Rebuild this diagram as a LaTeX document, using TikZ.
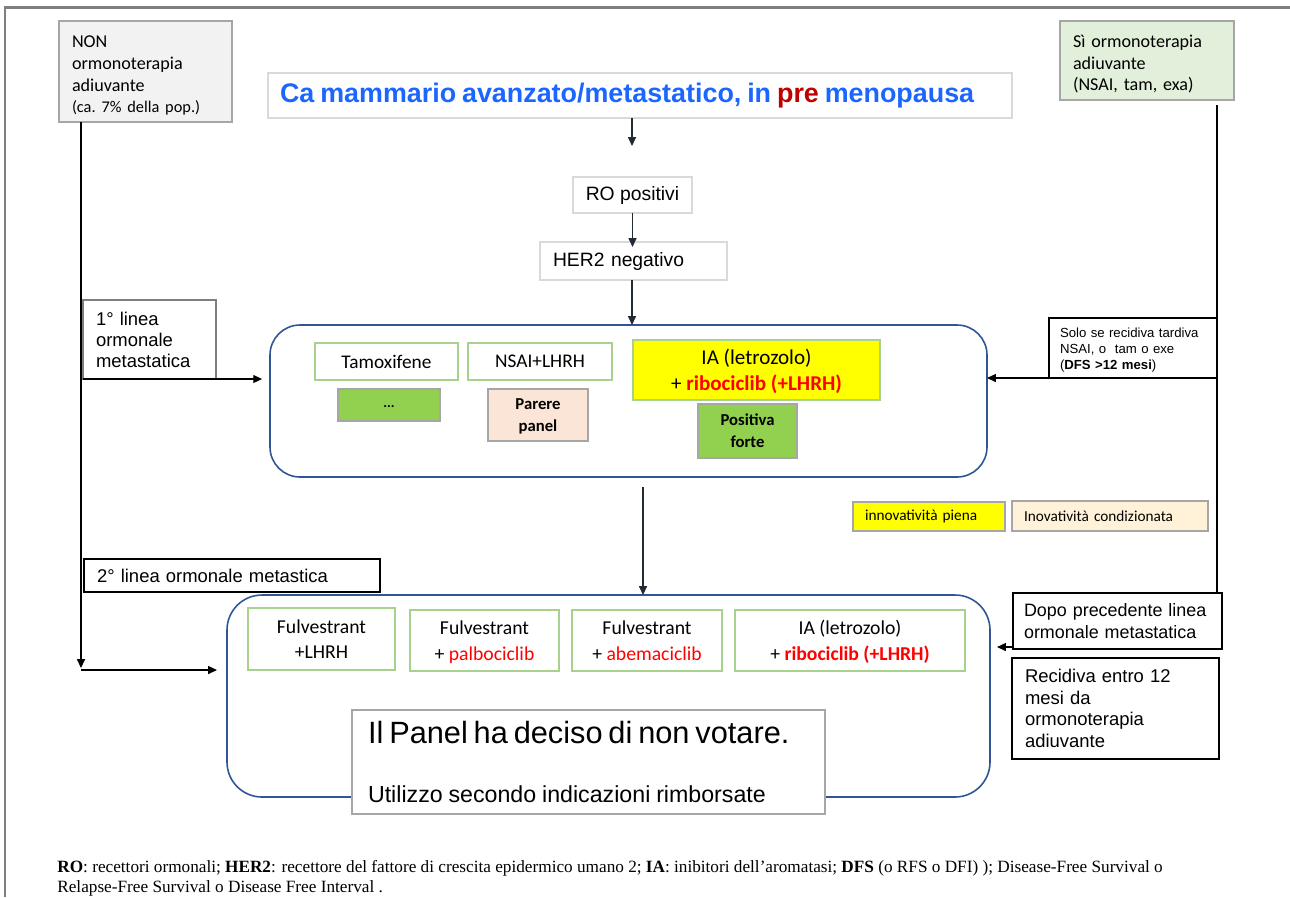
\documentclass[tikz,border=0pt]{standalone}
\usepackage{fontspec}
\setmainfont{Liberation Sans}
\newfontfamily\calfont{Carlito}
\newfontfamily\tmsfont{Liberation Serif}
\usetikzlibrary{arrows.meta}
\definecolor{framegray}{HTML}{7F7F7F}
\definecolor{boxgray}{HTML}{A6A6A6}
\definecolor{lightgray}{HTML}{D9D9D9}
\definecolor{nonfill}{HTML}{F2F2F2}
\definecolor{sifill}{HTML}{E2EFDA}
\definecolor{titleblue}{HTML}{1A66FF}
\definecolor{darkred}{HTML}{C00000}
\definecolor{bigblue}{HTML}{2F5597}
\definecolor{greenline}{HTML}{A9D18E}
\definecolor{greenfill}{HTML}{92D050}
\definecolor{peach}{HTML}{FBE5D6}
\definecolor{beige}{HTML}{FFF2D9}
\definecolor{yel}{HTML}{FFFF00}
\definecolor{rd}{HTML}{FF0000}
\definecolor{navy}{HTML}{222A35}
\newcommand\nodep[1]{\raisebox{0pt}[\height][0pt]{#1}}
\tikzset{
  sz/.style 2 args={minimum width=#1*0.02cm, minimum height=#2*0.02cm},
  base/.style={draw, inner sep=0pt, outer sep=0pt},
  graybox/.style={base, draw=boxgray, line width=0.8pt},
  lightbox/.style={base, draw=lightgray, line width=0.9pt, fill=white},
  blackbox/.style={base, draw=black, line width=0.9pt, fill=white},
  greenbox/.style={base, draw=greenline, line width=0.9pt, fill=white, align=center},
  bigbox/.style={base, draw=bigblue, line width=0.9pt, rounded corners=0.6cm},
  arr/.style={-{Triangle[length=5pt,width=4.5pt]}, line width=0.7pt},
  leftpad/.style={align=left, inner xsep=#1*0.02cm},
}
\begin{document}
\begin{tikzpicture}[x=0.02cm, y=-0.02cm]
\useasboundingbox (0,0) rectangle (1290,897);
\fill[white] (0,0) rectangle (1290,897);
% page frame
\draw[framegray, line width=1.7pt] (5,897) -- (5,7) -- (1290,7);

% top-left box
\node[graybox, fill=nonfill, sz={173}{101}, leftpad=13, text width=2.94cm] (non) at (145.5,71.5)
 {\calfont\fontsize{10.3}{12.4}\selectfont\rule{0pt}{11pt}NON\\ormonoterapia\\adiuvante\\{\fontsize{9.3}{12.2}\selectfont\frenchspacing(ca. 7\% della pop.)}};
% top-right box
\node[graybox, fill=sifill, sz={174}{79}, leftpad=13, text width=2.96cm] (si) at (1147,60.5)
 {\calfont\fontsize{10.3}{12.5}\selectfont\rule{0pt}{11pt}Sì ormonoterapia\\adiuvante\\(NSAI, tam, exa)};

% title
\node[lightbox, sz={744}{45}, leftpad=12, text width=14.4cm] (title) at (640,95.5)
 {\fontsize{15.3}{18}\selectfont\bfseries\color{titleblue}Ca mammario avanzato/metastatico, in \textcolor{darkred}{pre} menopausa};

\node[lightbox, sz={119}{36}, font=\fontsize{11}{13}\selectfont] (ro) at (632.5,195) {RO positivi};
\node[lightbox, sz={187}{38}, leftpad=13, text width=3.22cm, font=\fontsize{11}{13}\selectfont] (her) at (633.5,261) {HER2 negativo};

\coordinate (t1) at (632,146);
\draw[arr, navy] (title.south -| t1) -- (t1);
\draw[arr, navy] (ro.south) -- ([yshift=-0.1cm]her.north -| ro.south);

% first big box
\node[bigbox, sz={717}{152}] (box1) at (628.5,401) {};
\draw[arr, navy] (her.south -| t1) -- (box1.north -| t1);

\node[greenbox, sz={143}{37}, font=\calfont\fontsize{11}{13}\selectfont] (tam) at (386.5,361.5) {Tamoxifene};
\node[greenbox, sz={144}{37}, font=\calfont\fontsize{11}{13}\selectfont] (nsai) at (540,361.5) {NSAI+LHRH};
\node[greenbox, fill=yel, sz={247}{60}, font=\calfont\fontsize{12}{15}\selectfont] (ia1) at (756.5,370)
 {IA (letrozolo)\\\nodep{+ \textcolor{rd}{\bfseries ribociclib (+LHRH)}}};
\node[graybox, fill=greenfill, sz={102}{32}, font=\calfont\fontsize{8}{10}\selectfont\bfseries] (dots) at (389,405) {\raisebox{-2.5pt}{...}};
\node[graybox, fill=peach, sz={100}{52}, align=center, font=\calfont\fontsize{9.5}{12.4}\selectfont\bfseries] (parere) at (538,415) {Parere\\\nodep{panel}};
\node[graybox, fill=greenfill, sz={99}{54}, align=center, font=\calfont\fontsize{9.5}{12.4}\selectfont\bfseries] (pos) at (747.5,431) {Positiva\\forte};

% left first line box
\node[graybox, draw=framegray, fill=white, sz={133}{79}, leftpad=13, text width=2.14cm, font=\fontsize{10.5}{12}\selectfont] (l1) at (149.5,339.5)
 {1° linea\\ormonale\\metastatica};
\draw[arr, black] (l1.south west) -- ([xshift=-4.5pt]l1.south west -| box1.west);

% right first line box
\node[blackbox, sz={168}{60}, leftpad=11, text width=2.92cm, font=\fontsize{7.5}{9.1}\selectfont] (solo) at (1133,348)
 {\rule{0pt}{8pt}Solo se recidiva tardiva\\NSAI, o\ \ tam o exe\\(\textbf{DFS >12 mesi})};
\draw[arr, black] (solo.south east) -- (solo.south east -| box1.east);

% legend
\node[graybox, fill=yel, sz={152}{29}, leftpad=12, text width=2.56cm, font=\calfont\fontsize{8.7}{10}\selectfont] (leg1) at (929,516.5) {innovatività piena};
\node[graybox, fill=beige, sz={196}{30}, leftpad=12, text width=3.44cm, font=\calfont\fontsize{8.7}{10}\selectfont] (leg2) at (1110,516) {Inovatività condizionata};

% second big box
\node[bigbox, sz={763}{202}, rounded corners=0.7cm] (box2) at (608.5,696) {};
\coordinate (m1) at (643,487);
\draw[arr, navy] (m1) -- (m1 |- box2.north);

\node[blackbox, line width=1.1pt, sz={296}{33}, leftpad=13, text width=5.4cm, font=\fontsize{10.5}{12}\selectfont] (l2) at (232,575.5)
 {2° linea ormonale metastica};

\node[greenbox, sz={147}{62}, font=\calfont\fontsize{11.2}{14.5}\selectfont] (f1) at (321.5,639) {Fulvestrant\\+LHRH};
\node[greenbox, sz={149}{61}, font=\calfont\fontsize{11.2}{14.5}\selectfont] (f2) at (484.5,640.5) {Fulvestrant\\\nodep{+ \textcolor{rd}{palbociclib}}};
\node[greenbox, sz={150}{61}, font=\calfont\fontsize{11.2}{14.5}\selectfont] (f3) at (647,640.5) {Fulvestrant\\+ \textcolor{rd}{abemaciclib}};
\node[greenbox, sz={230}{61}, font=\calfont\fontsize{11.2}{14.5}\selectfont] (ia2) at (850,640.5) {IA (letrozolo)\\\nodep{+ \textcolor{rd}{\bfseries ribociclib (+LHRH)}}};

\node[graybox, fill=white, sz={473}{104}, leftpad=16, text width=8.82cm] (panel) at (588.5,762)
 {\fontsize{17.5}{20}\selectfont Il Panel ha deciso di non votare.\\[21.5pt]{\fontsize{13.2}{20}\selectfont Utilizzo secondo indicazioni rimborsate}};

% left connectors
\coordinate (lx) at (81,668);
\draw[arr, black] (lx |- non.south) -- (lx);
\draw[arr, black] ([yshift=-0.04cm]lx) -- ([yshift=-0.04cm, xshift=-5.7pt]lx -| box2.west);

% right boxes
\node[blackbox, sz={209}{56}, leftpad=11, text width=3.74cm, font=\fontsize{10.2}{12.5}\selectfont] (dopo) at (1117.5,621)
 {Dopo precedente linea\\ormonale metastatica};
\node[blackbox, sz={207}{101}, leftpad=13, text width=3.62cm, font=\fontsize{10.5}{12.3}\selectfont] (recid) at (1115.5,708.5)
 {Recidiva entro 12\\mesi da\\ormonoterapia\\adiuvante};
\coordinate (rx) at (1217,105);
\draw[black, line width=0.6pt] (rx) -- (rx |- dopo.north);
\draw[arr, black] ([yshift=0.04cm]dopo.south west) -- ([yshift=0.04cm, xshift=4pt]dopo.south west -| box2.east);

% footnote
\node[anchor=base west, align=left, inner sep=0pt, font=\tmsfont\fontsize{9.8}{11.2}\selectfont] (foot) at (57,892)
 {\textbf{RO}: recettori ormonali; \textbf{HER2}: recettore del fattore di crescita epidermico umano 2; \textbf{IA}: inibitori dell’aromatasi; \textbf{DFS} (o RFS o DFI) ); Disease-Free Survival o\\Relapse-Free Survival o Disease Free Interval .};
\end{tikzpicture}
\end{document}
